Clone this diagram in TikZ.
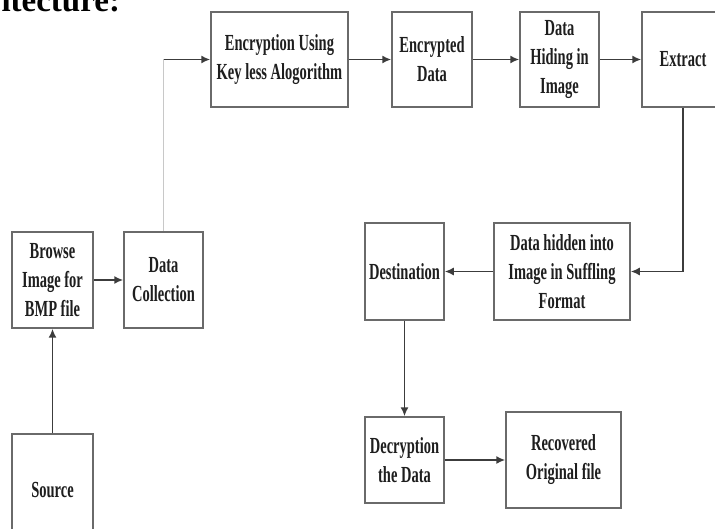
\documentclass[tikz,border=0pt]{standalone}
\usepackage{fontspec}
\setmainfont{Liberation Serif}
\newfontfamily\boxfont{Liberation Serif}[FakeStretch=0.63]
\usetikzlibrary{arrows.meta}
\definecolor{boxgray}{HTML}{6A6A6A}
\definecolor{linegray}{HTML}{3C3C3C}
\definecolor{faintgray}{HTML}{C8C8C8}
\definecolor{txt}{HTML}{1E1E1E}
\tikzset{
  blk/.style={draw=boxgray, line width=1.5pt, fill=white, inner sep=0pt, align=center,
    text=txt, font=\boxfont\bfseries\fontsize{23}{29}\selectfont},
  conn/.style={draw=linegray, line width=1.6pt, -{Latex[length=9pt,width=8pt]}},
  faint/.style={draw=faintgray, line width=0.8pt},
}
\begin{document}
\begin{tikzpicture}[x=1pt,y=-1pt]
\useasboundingbox (0,0) rectangle (715,529);
\clip (0,0) rectangle (715,529);
\node[anchor=base west, text=black, font=\bfseries\fontsize{33}{36}\selectfont] (title) at (-2,12) {itecture:};

\node[blk, minimum width=137pt, minimum height=95pt] (enc) at (279.5,59.5) {Encryption Using\\Key less Alogorithm};
\node[blk, minimum width=80pt, minimum height=95pt] (encd) at (432,59.5) {Encrypted\\Data};
\node[blk, minimum width=79pt, minimum height=95pt] (hide) at (559.5,59.5) {Data\\Hiding in\\Image};
\node[blk, minimum width=82pt, minimum height=95pt] (ext) at (683,59.5) {Extract};

\node[blk, minimum width=136pt, minimum height=97pt] (dh) at (562,271.5) {Data hidden into\\Image in Suffling\\Format};
\node[blk, minimum width=79pt, minimum height=97pt] (dest) at (404.5,271.5) {Destination};
\node[blk, minimum width=79pt, minimum height=86pt] (dec) at (404.5,460) {Decryption\\the Data};
\node[blk, minimum width=115pt, minimum height=96pt] (rec) at (563.5,460) {Recovered\\Original file};

\node[blk, minimum width=81pt, minimum height=96pt] (browse) at (52.5,280) {Browse\\Image for\\BMP file};
\node[blk, minimum width=79pt, minimum height=96pt] (dc) at (163.5,280) {Data\\Collection};
\node[blk, minimum width=81pt, minimum height=112pt] (src) at (52.5,490) {Source};

\coordinate (c1) at (163.5,59.5);
\draw[faint] (dc.north) -- (c1);
\draw[conn] (c1) -- (enc.west);
\draw[conn] (enc.east) -- (encd.west);
\draw[conn] (encd.east) -- (hide.west);
\draw[conn] (hide.east) -- (ext.west);
\draw[conn] (ext.south) |- (dh.east);
\draw[conn] (dh.west) -- (dest.east);
\draw[conn] (dest.south) -- (dec.north);
\draw[conn] (dec.east) -- (rec.west);
\draw[conn] (src.north) -- (browse.south);
\draw[conn] (browse.east) -- (dc.west);
\end{tikzpicture}
\end{document}
